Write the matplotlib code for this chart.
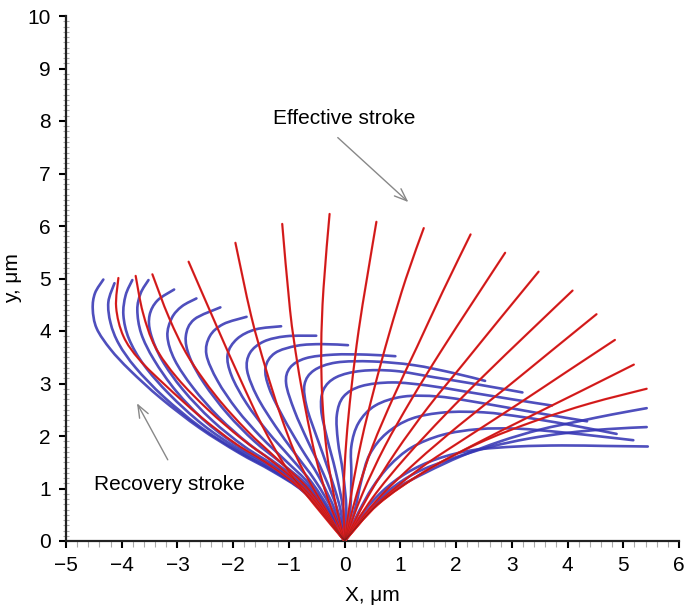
import numpy as np
import matplotlib
matplotlib.use("Agg")
import matplotlib.pyplot as plt
from matplotlib.path import Path
from matplotlib.patches import PathPatch
from matplotlib.ticker import MultipleLocator

# ---- data: points read along each cilium shape (x, y in um) ----
red_strokes = [
    [(0, 0), (-0.7, 0.9), (-1.35, 1.45), (-1.95, 1.85), (-2.6, 2.38), (-3.2, 2.95), (-3.68, 3.45), (-3.97, 3.9), (-4.1, 4.45), (-4.06, 5.01)],
    [(0, 0), (-0.66, 0.92), (-1.28, 1.5), (-1.85, 1.95), (-2.45, 2.5), (-3.0, 3.1), (-3.4, 3.7), (-3.62, 4.35), (-3.75, 5.05)],
    [(0, 0), (-0.62, 0.95), (-1.2, 1.55), (-1.75, 2.1), (-2.3, 2.75), (-2.8, 3.5), (-3.15, 4.25), (-3.45, 5.08)],
    [(0, 0), (-0.55, 0.7), (-1.05, 1.4), (-1.48, 2.2), (-1.88, 3.1), (-2.3, 4.1), (-2.80, 5.32)],
    [(0, 0), (-0.45, 0.8), (-0.84, 1.55), (-1.15, 2.4), (-1.42, 3.3), (-1.68, 4.3), (-1.96, 5.68)],
    [(0, 0), (-0.3, 0.8), (-0.52, 1.6), (-0.7, 2.5), (-0.85, 3.4), (-0.98, 4.4), (-1.12, 6.04)],
    [(0, 0), (-0.18, 0.8), (-0.32, 1.7), (-0.4, 2.7), (-0.42, 3.7), (-0.38, 4.8), (-0.27, 6.23)],
    [(0, 0), (-0.02, 0.9), (0.03, 1.9), (0.12, 2.9), (0.25, 4.0), (0.4, 5.0), (0.57, 6.08)],
    [(0, 0), (0.12, 0.9), (0.3, 1.9), (0.53, 2.9), (0.8, 3.95), (1.1, 5.0), (1.42, 5.96)],
    [(0, 0), (0.22, 0.9), (0.5, 1.8), (0.88, 2.75), (1.3, 3.7), (1.76, 4.75), (2.26, 5.84)],
    [(0, 0), (0.32, 0.9), (0.72, 1.8), (1.2, 2.7), (1.72, 3.6), (2.3, 4.55), (2.88, 5.49)],
    [(0, 0), (0.42, 0.85), (0.92, 1.7), (1.5, 2.55), (2.15, 3.4), (2.8, 4.25), (3.48, 5.13)],
    [(0, 0), (0.5, 0.82), (1.1, 1.6), (1.8, 2.4), (2.5, 3.15), (3.3, 3.97), (4.09, 4.77)],
    [(0, 0), (0.58, 0.78), (1.28, 1.5), (2.05, 2.2), (2.9, 2.92), (3.72, 3.63), (4.52, 4.32)],
    [(0, 0), (0.6, 0.72), (1.35, 1.38), (2.2, 1.98), (3.1, 2.6), (3.98, 3.22), (4.85, 3.83)],
    [(0, 0), (0.6, 0.7), (1.4, 1.3), (2.35, 1.85), (3.3, 2.36), (4.25, 2.86), (5.19, 3.36)],
    [(0, 0), (0.6, 0.7), (1.45, 1.33), (2.4, 1.86), (3.4, 2.28), (4.4, 2.62), (5.42, 2.90)],
]

blue_strokes = [
    [(0, 0), (-0.3, 0.42), (-0.75, 0.95), (-1.3, 1.33), (-1.9, 1.68), (-2.6, 2.15), (-3.3, 2.72), (-3.85, 3.25), (-4.2, 3.65), (-4.45, 4.05), (-4.52, 4.42), (-4.48, 4.72), (-4.33, 4.98)],
    [(0, 0), (-0.3, 0.43), (-0.75, 0.96), (-1.3, 1.35), (-1.9, 1.7), (-2.6, 2.18), (-3.25, 2.75), (-3.75, 3.3), (-4.05, 3.75), (-4.2, 4.15), (-4.24, 4.55), (-4.13, 4.91)],
    [(0, 0), (-0.3, 0.44), (-0.74, 0.97), (-1.28, 1.37), (-1.88, 1.73), (-2.55, 2.22), (-3.15, 2.8), (-3.6, 3.35), (-3.87, 3.85), (-3.97, 4.3), (-3.93, 4.68), (-3.81, 4.97)],
    [(0, 0), (-0.29, 0.45), (-0.72, 0.98), (-1.25, 1.39), (-1.85, 1.76), (-2.48, 2.26), (-3.02, 2.85), (-3.42, 3.45), (-3.65, 3.95), (-3.72, 4.4), (-3.66, 4.72), (-3.52, 4.97)],
    [(0, 0), (-0.28, 0.46), (-0.7, 1.0), (-1.22, 1.41), (-1.8, 1.8), (-2.38, 2.3), (-2.9, 2.88), (-3.28, 3.45), (-3.48, 3.95), (-3.5, 4.3), (-3.36, 4.58), (-3.06, 4.79)],
    [(0, 0), (-0.27, 0.47), (-0.68, 1.02), (-1.18, 1.44), (-1.72, 1.85), (-2.25, 2.35), (-2.72, 2.92), (-3.05, 3.45), (-3.18, 3.9), (-3.1, 4.25), (-2.92, 4.47), (-2.66, 4.62)],
    [(0, 0), (-0.26, 0.48), (-0.65, 1.04), (-1.13, 1.48), (-1.62, 1.9), (-2.1, 2.42), (-2.52, 3.0), (-2.78, 3.5), (-2.85, 3.9), (-2.7, 4.22), (-2.23, 4.45)],
    [(0, 0), (-0.25, 0.5), (-0.62, 1.07), (-1.06, 1.53), (-1.5, 1.98), (-1.93, 2.5), (-2.28, 3.05), (-2.48, 3.55), (-2.42, 3.9), (-2.18, 4.13), (-1.76, 4.27)],
    [(0, 0), (-0.23, 0.52), (-0.58, 1.1), (-0.98, 1.6), (-1.38, 2.08), (-1.76, 2.62), (-2.03, 3.15), (-2.1, 3.55), (-1.93, 3.85), (-1.6, 4.03), (-1.14, 4.09)],
    [(0, 0), (-0.2, 0.55), (-0.53, 1.15), (-0.9, 1.68), (-1.25, 2.2), (-1.57, 2.75), (-1.75, 3.25), (-1.7, 3.58), (-1.45, 3.8), (-1.05, 3.9), (-0.51, 3.91)],
    [(0, 0), (-0.17, 0.58), (-0.46, 1.22), (-0.8, 1.8), (-1.1, 2.35), (-1.35, 2.9), (-1.42, 3.3), (-1.25, 3.58), (-0.85, 3.72), (-0.4, 3.75), (0.06, 3.73)],
    [(0, 0), (-0.13, 0.6), (-0.38, 1.28), (-0.66, 1.9), (-0.9, 2.48), (-1.05, 3.0), (-0.98, 3.3), (-0.7, 3.48), (-0.2, 3.55), (0.4, 3.55), (0.91, 3.52)],
    [(0, 0), (-0.08, 0.62), (-0.28, 1.32), (-0.5, 1.98), (-0.68, 2.55), (-0.72, 2.98), (-0.55, 3.25), (-0.15, 3.4), (0.5, 3.42), (1.24, 3.35), (1.95, 3.2), (2.52, 3.05)],
    [(0, 0), (-0.03, 0.62), (-0.16, 1.32), (-0.32, 1.98), (-0.42, 2.5), (-0.38, 2.88), (-0.15, 3.12), (0.3, 3.24), (0.9, 3.24), (1.6, 3.12), (2.4, 2.98), (3.19, 2.83)],
    [(0, 0), (0.03, 0.62), (-0.03, 1.3), (-0.12, 1.9), (-0.14, 2.4), (-0.02, 2.75), (0.3, 2.95), (0.85, 3.02), (1.5, 2.96), (2.2, 2.84), (3.0, 2.7), (3.72, 2.58)],
    [(0, 0), (0.1, 0.6), (0.12, 1.25), (0.12, 1.8), (0.25, 2.25), (0.55, 2.58), (1.05, 2.75), (1.7, 2.75), (2.5, 2.62), (3.4, 2.45), (4.35, 2.28)],
    [(0, 0), (0.18, 0.58), (0.3, 1.15), (0.45, 1.65), (0.75, 2.05), (1.2, 2.33), (1.8, 2.45), (2.5, 2.45), (3.2, 2.36), (4.0, 2.22), (4.88, 2.04)],
    [(0, 0), (0.25, 0.55), (0.5, 1.02), (0.8, 1.43), (1.2, 1.78), (1.75, 2.02), (2.4, 2.13), (3.1, 2.14), (3.9, 2.07), (4.6, 1.99), (5.18, 1.92)],
    [(0, 0), (0.3, 0.5), (0.68, 0.95), (1.12, 1.3), (1.65, 1.56), (2.3, 1.73), (3.1, 1.8), (3.9, 1.82), (4.7, 1.81), (5.44, 1.80)],
    [(0, 0), (0.35, 0.5), (0.78, 0.95), (1.28, 1.3), (1.9, 1.56), (2.6, 1.79), (3.3, 1.95), (4.0, 2.06), (4.7, 2.13), (5.42, 2.17)],
    [(0, 0), (0.38, 0.5), (0.85, 0.95), (1.45, 1.3), (2.1, 1.62), (2.8, 1.9), (3.5, 2.12), (4.2, 2.28), (4.8, 2.41), (5.42, 2.53)],
]

x_ticks = [-5, -4, -3, -2, -1, 0, 1, 2, 3, 4, 5, 6]
y_ticks = [0, 1, 2, 3, 4, 5, 6, 7, 8, 9, 10]

effective_label = "Effective stroke"
effective_text_pos = (0.0, 8.05)
effective_arrow = ((-0.16, 7.72), (1.18, 6.42))
recovery_label = "Recovery stroke"
recovery_text_pos = (-3.15, 1.07)
recovery_arrow = ((-3.15, 1.5), (-3.75, 2.67))


def smooth_path(points):
    pts = np.asarray(points, dtype=float)
    n = len(pts)
    verts = [pts[0]]
    codes = [Path.MOVETO]
    for i in range(n - 1):
        p0 = pts[i - 1] if i > 0 else pts[i]
        p1 = pts[i]
        p2 = pts[i + 1]
        p3 = pts[i + 2] if i + 2 < n else pts[i + 1]
        c1 = p1 + (p2 - p0) / 6.0
        c2 = p2 - (p3 - p1) / 6.0
        verts += [c1, c2, p2]
        codes += [Path.CURVE4] * 3
    return Path(verts, codes)


plt.rcParams['font.family'] = ['Liberation Sans', 'DejaVu Sans']

fig = plt.figure(figsize=(6.84, 6.10), dpi=100)
ax = fig.add_axes([66 / 684, 69 / 610, 613 / 684, 525 / 610])

for stroke in blue_strokes:
    ax.add_patch(PathPatch(smooth_path(stroke), fill=False, edgecolor='#3636b4',
                           lw=1.9, alpha=0.88, capstyle='round', joinstyle='round', zorder=2))
for stroke in red_strokes:
    ax.add_patch(PathPatch(smooth_path(stroke), fill=False, edgecolor='#e61e1e',
                           lw=1.6, capstyle='round', joinstyle='round', zorder=3))
    ax.add_patch(PathPatch(smooth_path(stroke), fill=False, edgecolor='#6e1a1a',
                           lw=0.45, alpha=0.45, capstyle='round', zorder=4))

ax.set_xlim(-5, 6)
ax.set_ylim(0, 10)
ax.set_xticks(x_ticks)
ax.set_yticks(y_ticks)
ax.xaxis.set_minor_locator(MultipleLocator(0.2))
ax.yaxis.set_minor_locator(MultipleLocator(0.1))
ax.tick_params(axis='both', which='major', direction='out', length=5, width=1.5,
               labelsize=15, colors='black', pad=6)
ax.tick_params(axis='x', which='minor', direction='out', length=4, width=0.8, color='#aaaaaa')
ax.tick_params(axis='y', which='minor', direction='inout', length=4, width=0.8, color='#aaaaaa')
for s in ['top', 'right']:
    ax.spines[s].set_visible(False)
for s in ['left', 'bottom']:
    ax.spines[s].set_linewidth(1.6)
    ax.spines[s].set_color('#222222')

ax.set_xlabel("X, \u03bcm", fontsize=15, labelpad=8)
ax.set_ylabel("y, \u03bcm", fontsize=15, labelpad=4)

ax.text(*effective_text_pos, effective_label, fontsize=15, ha='center', va='center')
ax.annotate("", xy=effective_arrow[1], xytext=effective_arrow[0],
            arrowprops=dict(arrowstyle='->,head_length=0.9,head_width=0.35', color='#888888', lw=1.0))
ax.text(*recovery_text_pos, recovery_label, fontsize=15, ha='center', va='center')
ax.annotate("", xy=recovery_arrow[1], xytext=recovery_arrow[0],
            arrowprops=dict(arrowstyle='->,head_length=0.9,head_width=0.35', color='#888888', lw=1.0))

fig.savefig("out.png", dpi=100)
